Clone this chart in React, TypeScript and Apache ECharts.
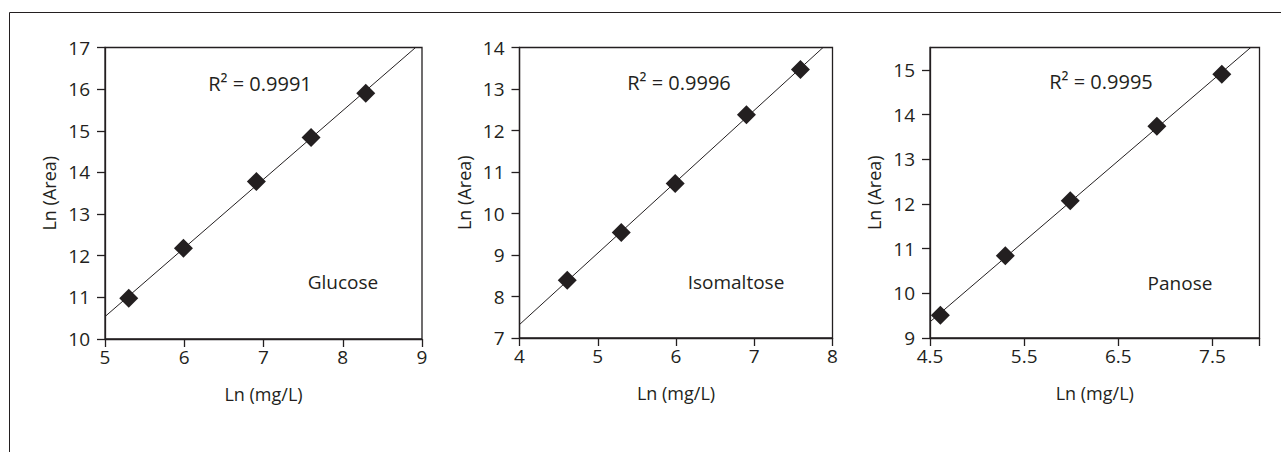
import React, { useEffect, useRef } from "react";
import * as echarts from "echarts";

// ---------- data ----------
const glucoseX = [5.3, 5.99, 6.91, 7.6, 8.29];
const glucoseY = [10.98, 12.18, 13.78, 14.84, 15.9];
const isomaltoseX = [4.61, 5.3, 5.99, 6.9, 7.59];
const isomaltoseY = [8.39, 9.54, 10.72, 12.38, 13.47];
const panoseX = [4.61, 5.3, 5.99, 6.91, 7.6];
const panoseY = [9.51, 10.84, 12.07, 13.74, 14.9];

const panelNames = ["Glucose", "Isomaltose", "Panose"];
const r2Labels = ["R\u00B2 = 0.9991", "R\u00B2 = 0.9996", "R\u00B2 = 0.9995"];

const xRanges = [
  [5, 9],
  [4, 8],
  [4.5, 8],
];
const yRanges = [
  [10, 17],
  [7, 14],
  [9, 15.5],
];
const xTickValues = [
  [5, 6, 7, 8, 9],
  [4, 5, 6, 7, 8],
  [4.5, 5.5, 6.5, 7.5, 8],
];
const xLabelValues = [
  [5, 6, 7, 8, 9],
  [4, 5, 6, 7, 8],
  [4.5, 5.5, 6.5, 7.5],
];
const yTickValues = [
  [10, 11, 12, 13, 14, 15, 16, 17],
  [7, 8, 9, 10, 11, 12, 13, 14],
  [9, 10, 11, 12, 13, 14, 15],
];
const xAxisTitle = "Ln (mg/L)";
const yAxisTitle = "Ln (Area)";

// ---------- layout ----------
const INK = "#231f20";
const FONT = "'Open Sans', 'Noto Sans', sans-serif";
const grids = [
  { left: 105, top: 47.5, width: 317, height: 291.5 },
  { left: 519.5, top: 47.5, width: 313, height: 290.5 },
  { left: 930, top: 47.5, width: 329.5, height: 290.5 },
];
const annotPos = [
  { r2: [260, 83], name: [343, 282] },
  { r2: [679, 82], name: [736, 282] },
  { r2: [1101, 81], name: [1180, 283] },
];

function fit(xs: number[], ys: number[]) {
  const n = xs.length;
  const mx = xs.reduce((a, b) => a + b, 0) / n;
  const my = ys.reduce((a, b) => a + b, 0) / n;
  let sxy = 0;
  let sxx = 0;
  for (let i = 0; i < n; i++) {
    sxy += (xs[i] - mx) * (ys[i] - my);
    sxx += (xs[i] - mx) * (xs[i] - mx);
  }
  const b = sxy / sxx;
  return { a: my - b * mx, b };
}

const has = (list: number[], v: number) => list.some((t) => Math.abs(t - v) < 1e-6);

export default function App() {
  const ref = useRef<HTMLDivElement>(null);
  useEffect(() => {
    if (!ref.current) return;
    const chart = echarts.init(ref.current, null, { renderer: "svg" });
    const sets = [
      [glucoseX, glucoseY],
      [isomaltoseX, isomaltoseY],
      [panoseX, panoseY],
    ];
    const series: any[] = [];
    sets.forEach(([xs, ys], i) => {
      const { a, b } = fit(xs, ys);
      const [x0, x1] = xRanges[i];
      series.push({
        type: "line",
        xAxisIndex: i,
        yAxisIndex: i,
        data: [
          [x0, a + b * x0],
          [x1, a + b * x1],
        ],
        showSymbol: false,
        symbol: "none",
        clip: true,
        lineStyle: { color: INK, width: 1 },
        silent: true,
        z: 2,
      });
      series.push({
        type: "scatter",
        xAxisIndex: i,
        yAxisIndex: i,
        data: xs.map((x, k) => [x, ys[k]]),
        symbol: "diamond",
        symbolSize: 19,
        itemStyle: { color: INK, opacity: 1 },
        z: 3,
      });
    });

    const axisLine = { show: true, lineStyle: { color: INK, width: 1.3 } };
    const nameStyle = { color: INK, fontFamily: FONT, fontSize: 18 };

    const graphic: any[] = [
      {
        type: "line",
        shape: { x1: 9.5, y1: 12.5, x2: 1281, y2: 12.5 },
        style: { stroke: INK, lineWidth: 1 },
      },
      {
        type: "line",
        shape: { x1: 9.5, y1: 12.5, x2: 9.5, y2: 452 },
        style: { stroke: INK, lineWidth: 1 },
      },
    ];
    annotPos.forEach((p, i) => {
      graphic.push({
        type: "text",
        x: p.r2[0],
        y: p.r2[1],
        style: {
          text: r2Labels[i],
          fill: INK,
          font: `20px ${FONT}`,
          textAlign: "center",
          textVerticalAlign: "middle",
        },
      });
      graphic.push({
        type: "text",
        x: p.name[0],
        y: p.name[1],
        style: {
          text: panelNames[i],
          fill: INK,
          font: `19px ${FONT}`,
          textAlign: "center",
          textVerticalAlign: "middle",
        },
      });
    });

    chart.setOption({
      animation: false,
      backgroundColor: "#ffffff",
      grid: grids.map((g) => ({
        ...g,
        show: true,
        borderColor: INK,
        borderWidth: 1.3,
        backgroundColor: "transparent",
      })),
      xAxis: grids.map((_, i) => ({
        type: "value",
        gridIndex: i,
        min: xRanges[i][0],
        max: xRanges[i][1],
        interval: 1,
        name: xAxisTitle,
        nameLocation: "middle",
        nameGap: 46,
        nameTextStyle: nameStyle,
        axisLine,
        axisTick: {
          show: true,
          inside: false,
          length: 8,
          lineStyle: { color: INK, width: 1.3 },
          customValues: xTickValues[i],
        },
        axisLabel: {
          show: true,
          color: INK,
          fontFamily: FONT,
          fontSize: 19,
          margin: 8,
          formatter: (v: number) => (has(xLabelValues[i], v) ? String(v) : ""),
        },
        splitLine: { show: false },
      })),
      yAxis: grids.map((_, i) => ({
        type: "value",
        gridIndex: i,
        min: yRanges[i][0],
        max: yRanges[i][1],
        interval: 1,
        name: yAxisTitle,
        nameLocation: "middle",
        nameGap: 47,
        nameTextStyle: nameStyle,
        axisLine,
        axisTick: {
          show: true,
          inside: false,
          length: 8,
          lineStyle: { color: INK, width: 1.3 },
          customValues: yTickValues[i],
        },
        axisLabel: {
          show: true,
          color: INK,
          fontFamily: FONT,
          fontSize: 19,
          margin: 15,
          formatter: (v: number) => (has(yTickValues[i], v) ? String(v) : ""),
        },
        splitLine: { show: false },
      })),
      series,
      graphic,
    });
    return () => chart.dispose();
  }, []);
  return (
    <div
      ref={ref}
      style={{ position: "absolute", left: 0, top: 0, width: 1281, height: 452 }}
    />
  );
}
